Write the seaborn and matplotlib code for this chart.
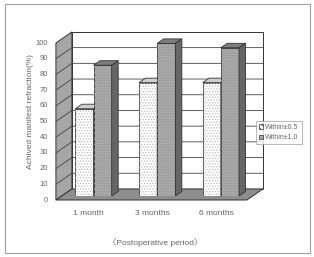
import pandas as pd
import matplotlib
matplotlib.use('Agg')
import matplotlib.pyplot as plt
import matplotlib.transforms as mtransforms
from matplotlib.patches import Polygon, Rectangle, Patch
import seaborn as sns

# data
periods = ['1 month', '3 months', '6 months']
series = ['Within±0.5', 'Within±1.0']
within_05 = [55.6, 72.2, 72.2]
within_10 = [83.3, 97.2, 94.4]
yticks = list(range(0, 101, 10))

df = pd.DataFrame({
    'period': periods * 2,
    'value': within_05 + within_10,
    'series': [series[0]] * 3 + [series[1]] * 3,
})

sns.set_style('white')
plt.rcParams['font.family'] = ['Liberation Sans', 'Noto Sans CJK KR', 'DejaVu Sans']
plt.rcParams['hatch.linewidth'] = 0.6

W, H = 314, 257
fig = plt.figure(figsize=(W / 100, H / 100), dpi=100)
# axes = plane of the bar front faces
ax = fig.add_axes([61.7 / W, (H - 196) / H, 191 / W, 157 / H])

sns.barplot(data=df, x='period', y='value', hue='series',
            palette=['white', '#a9a9a9'], saturation=1, width=0.57,
            edgecolor='#333333', linewidth=0.6, legend=False, ax=ax)
ax.set_xlim(-0.5, 2.5)
ax.set_ylim(0, 100)
ax.axis('off')

bars = sorted([p for p in ax.patches if p.get_height() > 0], key=lambda p: p.get_x())

IDT = mtransforms.IdentityTransform()
DX, DY = 6.5, 4.5       # one bar depth in pixels
D_BACK, D_FRONT = 1.57, -0.89


def px(x, y, d):
    X, Y = ax.transData.transform((x, y))
    return (X + d * DX, Y + d * DY)


def poly(pts, fc, z, ec='#333333', lw=0.6):
    ax.add_patch(Polygon(pts, closed=True, facecolor=fc, edgecolor=ec,
                         linewidth=lw, transform=IDT, clip_on=False, zorder=z))


line_c = '#333333'
# back wall
poly([px(-0.5, 0, D_BACK), px(2.5, 0, D_BACK), px(2.5, 100, D_BACK), px(-0.5, 100, D_BACK)],
     'white', 0.5, ec=line_c, lw=0.7)
# left wall
poly([px(-0.5, 0, D_FRONT), px(-0.5, 0, D_BACK), px(-0.5, 100, D_BACK), px(-0.5, 100, D_FRONT)],
     '#a6a6a6', 0.6, ec=line_c, lw=0.7)
for v in yticks[1:-1]:
    a, b = px(-0.5, v, D_FRONT), px(-0.5, v, D_BACK)
    c = px(2.5, v, D_BACK)
    ax.plot([a[0], b[0], c[0]], [a[1], b[1], c[1]], color='#444444', lw=0.6,
            transform=IDT, clip_on=False, zorder=0.7)
# floor
poly([px(-0.5, 0, D_FRONT), px(2.5, 0, D_FRONT), px(2.5, 0, D_BACK), px(-0.5, 0, D_BACK)],
     '#8e8e8e', 0.8, ec=line_c, lw=0.7)

# 3D bars
for k, p in enumerate(bars):
    z = 2 + k * 0.1
    x0, w, h = p.get_x(), p.get_width(), p.get_height()
    light = k % 2 == 0
    p.set_zorder(z)
    ax.add_patch(Rectangle((x0, 0), w, h, fill=False, linewidth=0,
                           edgecolor='#bdbdbd' if light else '#939393',
                           hatch='......', zorder=z + 0.01))
    poly([px(x0, h, 0), px(x0 + w, h, 0), px(x0 + w, h, 1), px(x0, h, 1)],
         '#cfcfcf' if light else '#7d7d7d', z + 0.02)
    poly([px(x0 + w, 0, 0), px(x0 + w, h, 0), px(x0 + w, h, 1), px(x0 + w, 0, 1)],
         '#b0b0b0' if light else '#666666', z + 0.02)

txt_c = '#666666'
for v in yticks:
    X, Y = px(-0.5, v, D_FRONT)
    fig.text(X - 8, Y, str(v), transform=IDT, ha='right', va='center',
             fontsize=5.5, color=txt_c)
for i, name in enumerate(periods):
    X, Y = px(i, 0, D_FRONT)
    fig.text(X + 1, Y - 13, name, transform=IDT, ha='center', va='center',
             fontsize=6, color=txt_c)

fig.text(30, H - 112, 'Achived manifest refraction(%)', transform=IDT, rotation=90,
         ha='center', va='center', fontsize=6, color=txt_c)
fig.text(155, H - 242, '〈Postoperative period〉', transform=IDT,
         ha='center', va='center', fontsize=6, color=txt_c)

handles = [Patch(facecolor='white', edgecolor='#333333', hatch='....', linewidth=0.5),
           Patch(facecolor='#a9a9a9', edgecolor='#333333', linewidth=0.5)]
leg = fig.legend(handles, series, loc='center', bbox_to_anchor=(279 / W, 1 - 132.5 / H),
                 fontsize=5, frameon=True, fancybox=False, edgecolor='#999999',
                 handlelength=0.6, handleheight=0.6, handletextpad=0.3,
                 borderpad=0.4, labelspacing=0.5, borderaxespad=0)
for t in leg.get_texts():
    t.set_color(txt_c)
leg.get_frame().set_linewidth(0.6)

# outer frame
fig.add_artist(Rectangle((5, 4), 305, 249, fill=False, edgecolor='#a0a0a0',
                         linewidth=0.8, transform=IDT))

fig.savefig('out.png', dpi=100)
